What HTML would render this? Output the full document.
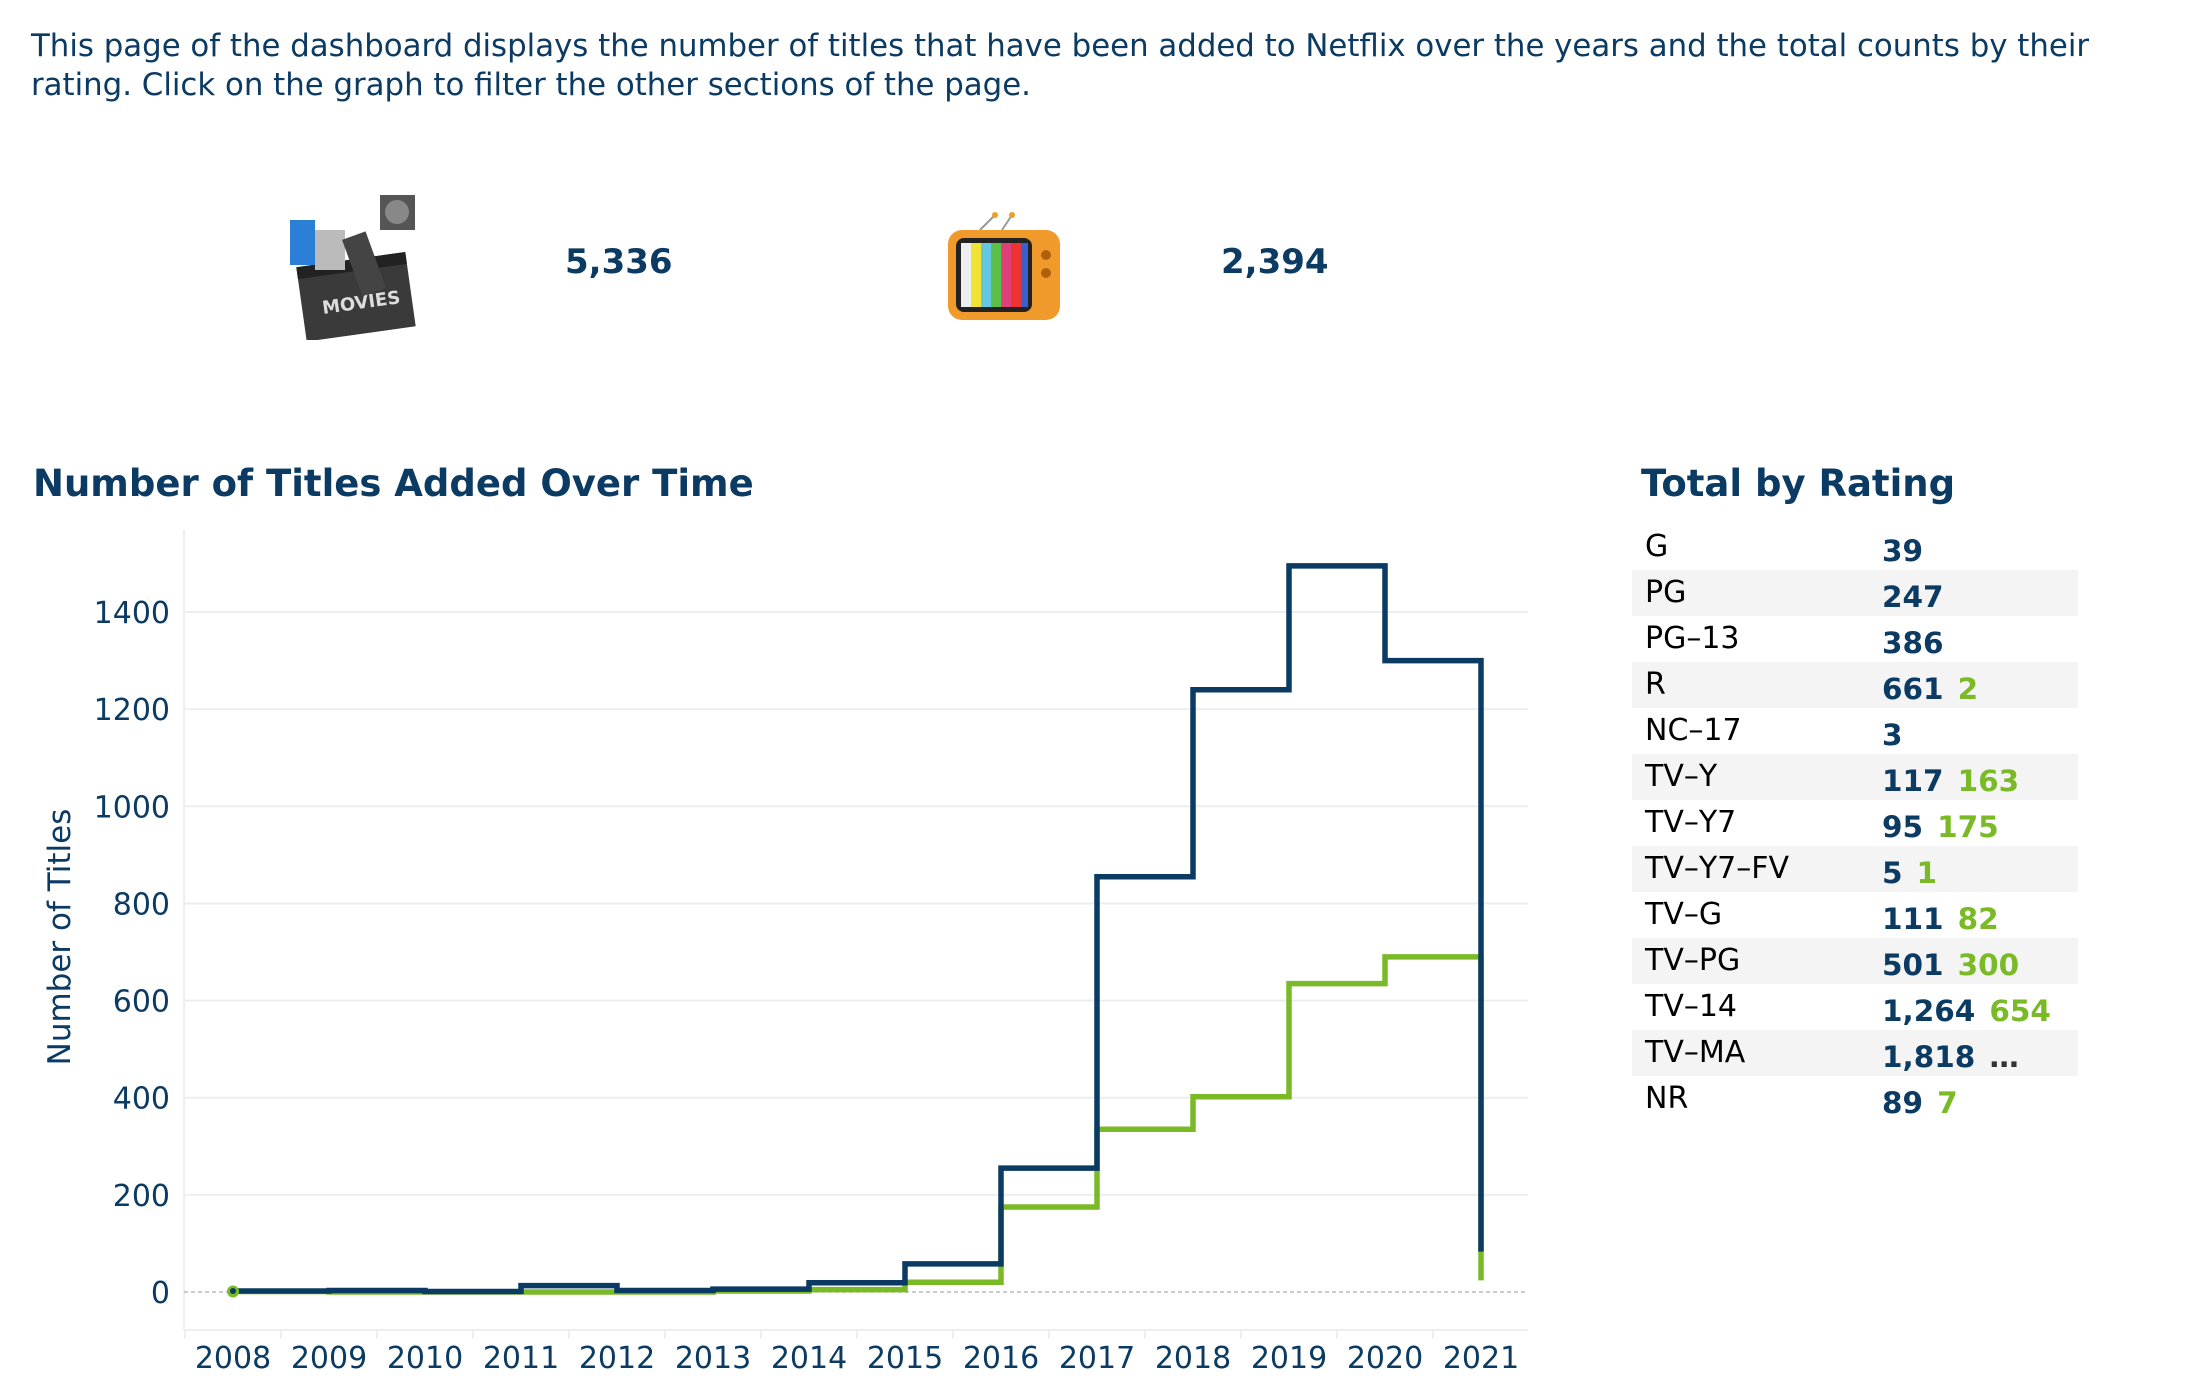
<!DOCTYPE html>
<html><head><meta charset="utf-8"><style>
body{margin:0;width:2200px;height:1400px;background:#fff;font-family:"DejaVu Sans","Liberation Sans",sans-serif;position:relative;overflow:hidden}
.abs{position:absolute}
#desc{left:31px;top:27px;width:2150px;font-size:30.8px;line-height:39px;color:#0b3a63}
.kpi{font-weight:bold;font-size:34px;color:#0b3a63}
.title{font-weight:bold;font-size:37px;color:#0b3a63}
.row{position:absolute;left:1632px;width:446px;height:46px}
.row .lab{position:absolute;left:13px;top:5px;font-size:30px;color:#000}
.row .val{position:absolute;left:250px;top:10px;font-size:29.5px;font-weight:bold;color:#0b3a63;white-space:nowrap}
.row .val span{color:#7aba27;margin-left:14px}
</style></head><body>
<div id="desc" class="abs">This page of the dashboard displays the number of titles that have been added to Netflix over the years and the total counts by their rating. Click on the graph to filter the other sections of the page.</div>

<svg class="abs" style="left:280px;top:190px" width="150" height="150">
<g transform="rotate(-8 70 100)"><rect x="20" y="70" width="110" height="75" fill="#3a3a3a"/><rect x="20" y="70" width="110" height="12" fill="#222"/>
<text x="40" y="120" font-size="18" font-weight="bold" fill="#ddd" font-family="DejaVu Sans">MOVIES</text></g>
<rect x="100" y="5" width="35" height="35" fill="#555"/><circle cx="117" cy="22" r="12" fill="#888"/>
<rect x="10" y="30" width="25" height="45" fill="#2c7fd6"/><rect x="35" y="40" width="30" height="40" fill="#bbb"/>
<rect x="70" y="45" width="25" height="60" fill="#444" transform="rotate(-20 80 70)"/>
</svg>
<div class="abs kpi" style="left:565px;top:242px">5,336</div>
<svg class="abs" style="left:940px;top:205px" width="130" height="125">
<line x1="40" y1="25" x2="55" y2="10" stroke="#999" stroke-width="2"/><line x1="62" y1="25" x2="72" y2="10" stroke="#999" stroke-width="2"/>
<circle cx="55" cy="10" r="3" fill="#f0a020"/><circle cx="72" cy="10" r="3" fill="#f0a020"/>
<rect x="8" y="25" width="112" height="90" rx="14" fill="#f19a2c"/>
<rect x="16" y="33" width="76" height="74" rx="8" fill="#222"/>
<g><rect x="21" y="38" width="10" height="64" fill="#eee"/><rect x="31" y="38" width="10" height="64" fill="#f1e331"/><rect x="41" y="38" width="10" height="64" fill="#62c8e0"/><rect x="51" y="38" width="10" height="64" fill="#5cbf4a"/><rect x="61" y="38" width="10" height="64" fill="#e0407a"/><rect x="71" y="38" width="10" height="64" fill="#e33"/><rect x="81" y="38" width="7" height="64" fill="#3c5fd0"/></g>
<circle cx="106" cy="50" r="5" fill="#b0600a"/><circle cx="106" cy="68" r="5" fill="#b0600a"/>
</svg>
<div class="abs kpi" style="left:1221px;top:242px">2,394</div>

<div class="abs title" style="left:33px;top:462px">Number of Titles Added Over Time</div>
<div class="abs title" style="left:1641px;top:462px">Total by Rating</div>

<svg id="chart" class="abs" style="left:0;top:0" width="1600" height="1400"></svg>
<div id="table"></div>

<script>
const years=[2008,2009,2010,2011,2012,2013,2014,2015,2016,2017,2018,2019,2020,2021];
const moviesSeries=[2,3,1,13,3,6,19,58,255,855,1240,1495,1300,83];
const tvSeries=[1,0,0,0,0,2,5,20,175,335,402,635,690,24];
const yTicks=[0,200,400,600,800,1000,1200,1400];
const ratings=["G","PG","PG-13","R","NC-17","TV-Y","TV-Y7","TV-Y7-FV","TV-G","TV-PG","TV-14","TV-MA","NR"];
const movieCounts=["39","247","386","661","3","117","95","5","111","501","1,264","1,818","89"];
const tvCounts=["","","","2","","163","175","1","82","300","654","…","7"];

const NS="http://www.w3.org/2000/svg";
const svg=document.getElementById('chart');
const x0=233,xStep=96,plotL=184,plotR=1528,plotT=530,plotB=1330;
const xs=i=>x0+i*xStep;
const ys=v=>1292-v*0.4857;
function mk(tag,attrs,parent){const e=document.createElementNS(NS,tag);for(const k in attrs)e.setAttribute(k,attrs[k]);(parent||svg).appendChild(e);return e;}

let l=mk('line',{x1:plotL,x2:plotL,y1:plotT,y2:plotB,stroke:'#eeeeee','stroke-width':2});


l=mk('line',{x1:plotL,x2:plotR,y1:plotB,y2:plotB,stroke:'#eeeeee','stroke-width':2});


yTicks.forEach(t=>{
  const g=mk('line',{x1:plotL,x2:plotR,y1:ys(t),y2:ys(t),stroke:t===0?'#bbbbbb':'#eeeeee','stroke-width':t===0?1.5:2,'stroke-dasharray':t===0?'4 3':'none'});
  
  
  const tx=mk('text',{x:170,y:ys(t)+11,'text-anchor':'end','font-size':30,fill:'#0b3a63','font-family':'DejaVu Sans'});
  tx.textContent=t;
  
  
});
years.forEach((y,i)=>{
  const tk=mk('line',{x1:xs(i)-48,x2:xs(i)-48,y1:plotB,y2:plotB+8,stroke:'#eeeeee','stroke-width':2});
  
  
  const tx=mk('text',{x:xs(i),y:1382,'text-anchor':'middle','font-size':30,fill:'#0b3a63','font-family':'DejaVu Sans'});
  tx.setAttribute('y',1368);
  tx.textContent=y;
  
  
});
const yt=mk('text',{x:0,y:0,'text-anchor':'middle','font-size':31,fill:'#0b3a63','font-family':'DejaVu Sans',transform:'translate(70 937) rotate(-90)'});
yt.textContent='Number of Titles';



function stepPath(vals){
  let d='M'+xs(0)+' '+ys(vals[0]);
  for(let i=1;i<vals.length;i++){d+=' H'+xs(i)+' V'+ys(vals[i]);}
  return d;
}
const pt=mk('path',{d:stepPath(tvSeries),fill:'none',stroke:'#7aba27','stroke-width':5.5});


const pm=mk('path',{d:stepPath(moviesSeries),fill:'none',stroke:'#0b3a63','stroke-width':5.5});


const dot=mk('circle',{cx:xs(0),cy:ys(tvSeries[0]),r:6,fill:'#7aba27'});


mk('circle',{cx:xs(0),cy:ys(moviesSeries[0]),r:3,fill:'#0b3a63'});

const tbl=document.getElementById('table');
ratings.forEach((r,i)=>{
  const row=document.createElement('div');
  row.className='row';
  row.style.top=(524+i*46)+'px';
  if(i%2===1)row.style.background='#f4f4f4';
  
  
  const lab=document.createElement('div');lab.className='lab';lab.textContent=r.replace(/-/g,'–');
  
  
  const val=document.createElement('div');val.className='val';val.textContent=movieCounts[i];
  
  
  if(tvCounts[i]){const s=document.createElement('span');s.textContent=tvCounts[i];if(tvCounts[i]==='…')s.style.color='#333';val.appendChild(s);}
  row.appendChild(lab);row.appendChild(val);tbl.appendChild(row);
});
</script>
</body></html>
